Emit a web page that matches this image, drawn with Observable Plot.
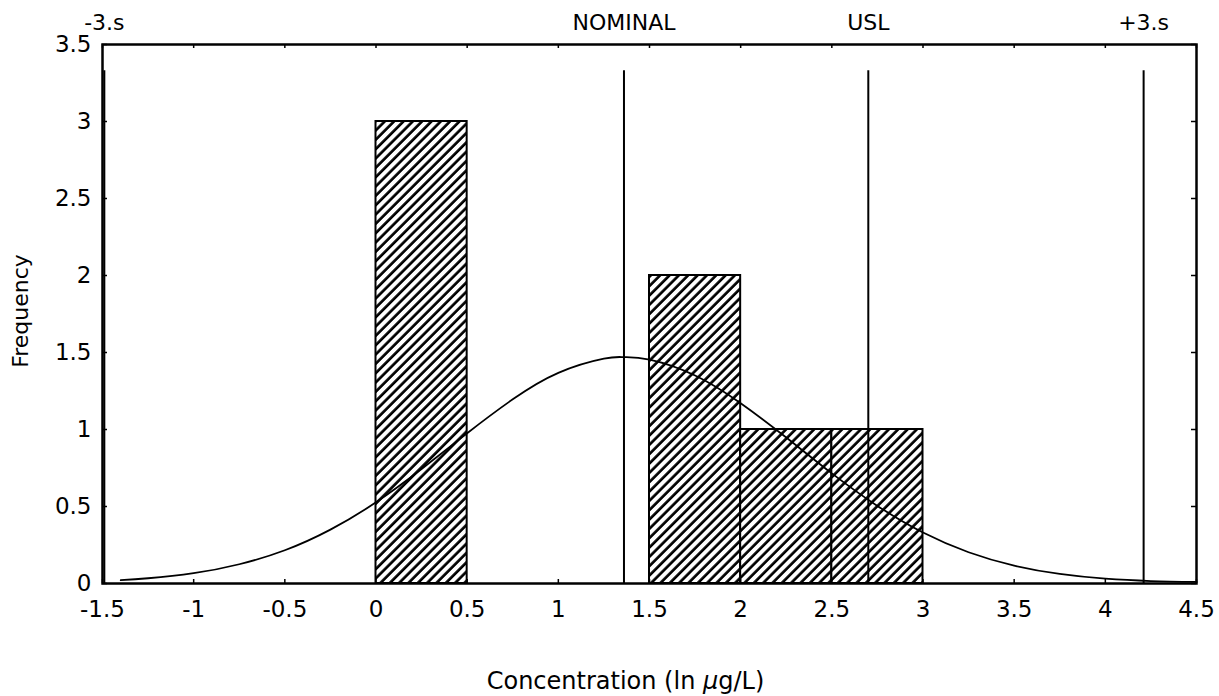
<!DOCTYPE html>
<html>
<head>
<meta charset="utf-8">
<script src="https://cdn.jsdelivr.net/npm/d3@7"></script>
<script src="https://cdn.jsdelivr.net/npm/@observablehq/plot@0.6"></script>
<style>
  html, body { margin: 0; padding: 0; background: #fff; }
</style>
</head>
<body>
<div id="chart"></div>
<script>
// Histogram bins (ln µg/L) and frequencies
const binStart = [0, 1.5, 2, 2.5];
const binEnd   = [0.5, 2, 2.5, 3];
const counts   = [3, 2, 1, 1];

// Fitted normal curve
const curveX = [-1.4, -1.25, -1, -0.75, -0.5, -0.25, 0, 0.25, 0.5, 0.75, 1, 1.25, 1.36, 1.5, 1.75, 2, 2.25, 2.5, 2.75, 3, 3.25, 3.5, 3.75, 4, 4.25, 4.5];
const curveY = [0.022, 0.034, 0.067, 0.125, 0.216, 0.35, 0.527, 0.743, 0.976, 1.196, 1.368, 1.46, 1.47, 1.454, 1.351, 1.171, 0.948, 0.715, 0.504, 0.331, 0.203, 0.116, 0.062, 0.031, 0.016, 0.01];

// Reference lines
const refX      = [-1.49, 1.36, 2.70, 4.21];
const refLabels = ["-3.s", "NOMINAL", "USL", "+3.s"];
const refTop    = 3.33;

// Axis ticks and titles
const xTicks = [-1.5, -1, -0.5, 0, 0.5, 1, 1.5, 2, 2.5, 3, 3.5, 4, 4.5];
const yTicks = [0, 0.5, 1, 1.5, 2, 2.5, 3, 3.5];
const xTitle = "Concentration (ln \u03bcg/L)";
const yTitle = "Frequency";

const bars  = binStart.map((s, i) => ({x1: s, x2: binEnd[i], y: counts[i]}));
const curve = curveX.map((x, i) => ({x, y: curveY[i]}));
const refs  = refX.map((x, i) => ({x, label: refLabels[i]}));

const fontFamily = "'DejaVu Sans', Verdana, sans-serif";

const plot = Plot.plot({
  width: 1219,
  height: 696,
  marginLeft: 102,
  marginRight: 23,
  marginTop: 44,
  marginBottom: 113,
  style: {fontFamily, fontSize: "23px", color: "black", background: "white"},
  x: {domain: [-1.5, 4.5]},
  y: {domain: [0, 3.5]},
  marks: [
    Plot.rectY(bars, {x1: "x1", x2: "x2", y: "y", fill: "url(#hatch)", stroke: "black", strokeWidth: 2}),
    Plot.line(curve, {x: "x", y: "y", curve: "natural", stroke: "black", strokeWidth: 1.8}),
    Plot.ruleX(refs, {x: "x", y1: 0, y2: refTop, stroke: "black", strokeWidth: 2}),
    Plot.text(refs, {x: "x", text: "label", frameAnchor: "top", lineAnchor: "middle", dy: -22, fontSize: 22}),
    // inward ticks on the frame
    Plot.tickX(xTicks, {x: d => d, insetBottom: 535, stroke: "black", strokeWidth: 1.5}),
    Plot.tickX(xTicks, {x: d => d, insetTop: 535, stroke: "black", strokeWidth: 1.5}),
    Plot.tickY(yTicks, {y: d => d, insetRight: 1089, stroke: "black", strokeWidth: 1.5}),
    Plot.tickY(yTicks, {y: d => d, insetLeft: 1089, stroke: "black", strokeWidth: 1.5}),
    Plot.axisX({ticks: xTicks, tickSize: 0, tickPadding: 17, tickFormat: d => String(d), label: null, fontSize: 23}),
    Plot.axisY({ticks: yTicks, tickSize: 0, tickPadding: 11, dy: 0, tickFormat: d => String(d), label: null, fontSize: 23}),
    Plot.frame({stroke: "black", strokeWidth: 2.5}),
    Plot.text([xTitle], {frameAnchor: "bottom", lineAnchor: "middle", dy: 98, dx: -24, fontSize: 24}),
    Plot.text([yTitle], {frameAnchor: "left", lineAnchor: "middle", textAnchor: "middle", rotate: -90, dx: -82, dy: -3, fontSize: 22})
  ]
});

const svg = d3.select(plot);

// italic mu in the x-axis title, as in the reference
svg.selectAll("text").filter(function() { return this.textContent === xTitle; })
  .each(function() {
    const t = d3.select(this);
    const parts = xTitle.split("\u03bc");
    t.text(null);
    t.append("tspan").text(parts[0]);
    t.append("tspan").attr("font-style", "italic").text("\u03bc");
    t.append("tspan").text(parts[1]);
  });

// hatch pattern definition
const defs = svg.insert("defs", ":first-child");
const pat = defs.append("pattern")
  .attr("id", "hatch")
  .attr("patternUnits", "userSpaceOnUse")
  .attr("width", 6.6)
  .attr("height", 6.6)
  .attr("patternTransform", "rotate(45)");
pat.append("rect").attr("width", 6.6).attr("height", 6.6).attr("fill", "white");
pat.append("line")
  .attr("x1", 1.5).attr("y1", 0).attr("x2", 1.5).attr("y2", 6.6)
  .attr("stroke", "black").attr("stroke-width", 2.7);

document.getElementById("chart").appendChild(plot);
</script>
</body>
</html>
